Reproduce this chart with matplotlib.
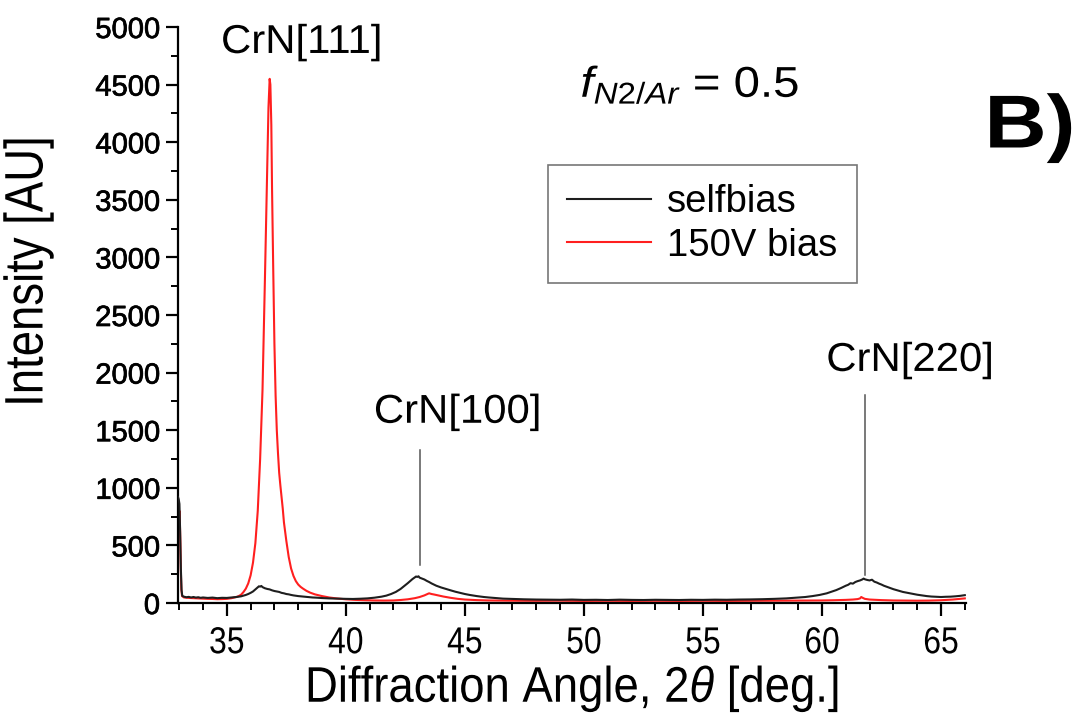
import matplotlib
matplotlib.use('Agg')
import matplotlib.pyplot as plt
import matplotlib.patheffects as pe
from matplotlib.transforms import Affine2D
from matplotlib import font_manager as fm
from matplotlib.ticker import MultipleLocator

# ---------------- data ----------------
selfbias_x = [32.95, 32.98, 33.01, 33.04, 33.07, 33.10, 33.13, 33.2, 33.3, 33.4, 33.5, 33.6, 33.7, 33.8, 33.9,
              34.0, 34.2, 34.4, 34.6, 34.8, 35.0, 35.2, 35.4, 35.6, 35.8, 35.9, 36.0, 36.1, 36.2, 36.3, 36.35,
              36.4, 36.45, 36.5, 36.6, 36.7, 36.8, 36.9, 37.0, 37.1, 37.2, 37.3, 37.4, 37.5, 37.6, 37.7, 37.8,
              37.9, 38.0, 38.2, 38.4, 38.6, 38.8, 39.0, 39.3, 39.6, 40.0, 40.3, 40.6, 40.9, 41.2, 41.5, 41.7,
              41.9, 42.1, 42.3, 42.5, 42.6, 42.7, 42.8, 42.9, 42.95, 43.0, 43.05, 43.1, 43.2, 43.3, 43.4, 43.5,
              43.6, 43.7, 43.8, 43.9, 44.0, 44.2, 44.4, 44.6, 44.8, 45.0, 45.2, 45.5, 45.8, 46.0, 46.3, 46.6,
              47.0, 47.5, 48.0, 48.5, 49.0, 49.5, 50.0, 50.5, 51.0, 51.5, 52.0, 52.5, 53.0, 53.5, 54.0, 54.5,
              55.0, 55.5, 56.0, 56.5, 57.0, 57.5, 58.0, 58.5, 59.0, 59.3, 59.6, 59.9, 60.2, 60.4, 60.6, 60.8,
              61.0, 61.1, 61.2, 61.3, 61.4, 61.5, 61.6, 61.7, 61.75, 61.8, 61.9, 62.0, 62.1, 62.2, 62.3, 62.4,
              62.5, 62.6, 62.8, 63.0, 63.2, 63.4, 63.6, 63.8, 64.0, 64.2, 64.4, 64.6, 64.8, 65.0, 65.2, 65.4,
              65.6, 65.8, 66.0]
selfbias_y = [920, 900, 860, 620, 300, 110, 62, 55, 50, 53, 48, 52, 47, 50, 45,
              48, 44, 47, 42, 45, 44, 48, 52, 58, 70, 78, 88, 100, 118, 135, 145,
              142, 148, 138, 128, 122, 118, 110, 104, 100, 96, 88, 84, 78, 75, 70, 66,
              63, 60, 56, 52, 48, 46, 43, 40, 38, 36, 35, 37, 40, 46, 55, 64,
              78, 96, 122, 155, 172, 190, 208, 222, 230, 226, 232, 220, 212, 204, 192, 182,
              170, 160, 150, 142, 135, 122, 110, 98, 88, 78, 70, 60, 52, 48, 43, 38,
              35, 32, 30, 29, 28, 30, 27, 28, 26, 29, 27, 26, 28, 27, 26, 28,
              27, 29, 28, 30, 31, 33, 36, 40, 47, 52, 60, 70, 84, 98, 112, 130,
              150, 158, 172, 168, 182, 190, 196, 205, 212, 206, 200, 196, 202, 185, 178, 168,
              160, 150, 135, 120, 108, 96, 88, 80, 72, 66, 60, 56, 54, 52, 54, 55,
              58, 62, 68]

bias150_x = [32.95, 32.97, 32.99, 33.01, 33.03, 33.05, 33.07, 33.09, 33.12, 33.2, 33.3, 33.4, 33.6, 33.8,
             34.0, 34.2, 34.4, 34.6, 34.8, 35.0, 35.2, 35.4, 35.5, 35.6, 35.7, 35.8, 35.9, 36.0, 36.1,
             36.2, 36.3, 36.4, 36.5, 36.6, 36.7, 36.75, 36.8, 36.83, 36.87, 36.9, 36.95, 37.0, 37.05,
             37.1, 37.15, 37.2, 37.25, 37.3, 37.35, 37.4, 37.5, 37.6, 37.7, 37.8, 37.9, 38.0, 38.1,
             38.2, 38.35, 38.5, 38.7, 39.0, 39.3, 39.6, 40.0, 40.4, 40.8, 41.2, 41.6, 42.0, 42.3,
             42.6, 42.9, 43.1, 43.3, 43.45, 43.5, 43.6, 43.7, 43.9, 44.1, 44.4, 44.7, 45.0, 45.5,
             46.0, 46.5, 47.0, 48.0, 49.0, 50.0, 51.0, 52.0, 53.0, 54.0, 55.0, 56.0, 57.0, 58.0,
             59.0, 60.0, 60.5, 61.0, 61.3, 61.5, 61.6, 61.65, 61.7, 61.8, 62.0, 62.5, 63.0, 63.5,
             64.0, 64.5, 65.0, 65.5, 66.0]
bias150_y = [780, 860, 720, 800, 690, 520, 280, 120, 60, 48, 46, 44, 42, 40,
             38, 36, 35, 33, 34, 36, 42, 52, 60, 72, 95, 125, 170, 240, 350,
             520, 800, 1250, 1850, 2800, 3800, 4300, 4550, 4500, 4150, 3600, 2900, 2250, 1800,
             1500, 1300, 1130, 1020, 920, 820, 700, 540, 400, 300, 235, 190, 160, 140,
             125, 105, 90, 75, 60, 48, 40, 32, 27, 24, 22, 21, 22, 26,
             32, 42, 52, 66, 80, 84, 78, 74, 65, 56, 45, 36, 30, 25,
             22, 21, 20, 19, 20, 18, 19, 18, 19, 18, 19, 18, 19, 20,
             21, 22, 24, 27, 30, 34, 40, 52, 46, 36, 30, 25, 22, 21,
             20, 21, 24, 30, 40]

series_labels = ['selfbias', '150V bias']
x_ticks = [35, 40, 45, 50, 55, 60, 65]
y_ticks = [0, 500, 1000, 1500, 2000, 2500, 3000, 3500, 4000, 4500, 5000]
peak_labels = ['CrN[111]', 'CrN[100]', 'CrN[220]']


# ---------------- text width scaling (narrow / wide lettering) ----------------
class HScale(pe.AbstractPathEffect):
    """Scale glyphs along the baseline direction about the text centre."""
    def __init__(self, sx):
        super().__init__()
        self.sx = sx

    def draw_path(self, renderer, gc, tpath, affine, rgbFace=None):
        ext = tpath.get_extents()
        cx = (ext.x0 + ext.x1) / 2.0
        t = Affine2D().translate(-cx, 0).scale(self.sx, 1.0).translate(cx, 0) + affine
        renderer.draw_path(gc, tpath, t, rgbFace)


def squeeze(txt, sx):
    txt.set_path_effects([HScale(sx)])
    return txt


# ---------------- fonts ----------------
names = {f.name for f in fm.fontManager.ttflist}
BASE = 'Liberation Sans' if 'Liberation Sans' in names else 'DejaVu Sans'
plt.rcParams['font.family'] = [BASE, 'DejaVu Sans']
plt.rcParams['mathtext.fontset'] = 'custom'
plt.rcParams['mathtext.rm'] = BASE
plt.rcParams['mathtext.it'] = BASE + ':italic'
plt.rcParams['mathtext.bf'] = BASE + ':bold'

W, H = 1084, 719
fig = plt.figure(figsize=(W / 100, H / 100), dpi=100)
L, R, T, B = 178, 966, 27, 603
ax = fig.add_axes([L / W, 1 - B / H, (R - L) / W, (B - T) / H])

ax.plot(selfbias_x, selfbias_y, color='#1e1e1e', lw=1.5, label=series_labels[0], zorder=3)
ax.plot(bias150_x, bias150_y, color='#ff1f1f', lw=1.5, label=series_labels[1], zorder=2)

ax.set_xlim(32.95, 66.05)
ax.set_ylim(0, 5000)
ax.set_xticks(x_ticks)
ax.set_yticks(y_ticks)
ax.xaxis.set_minor_locator(MultipleLocator(1))
ax.yaxis.set_minor_locator(MultipleLocator(250))
for s in ['top', 'right']:
    ax.spines[s].set_visible(False)
for s in ['left', 'bottom']:
    ax.spines[s].set_linewidth(1.6)
ax.tick_params(which='major', direction='out', length=9, width=1.6)
ax.tick_params(which='minor', direction='out', length=5, width=1.4)
ax.tick_params(axis='x', pad=7)
ax.tick_params(axis='y', pad=4)

for lab in ax.get_xticklabels():
    lab.set_fontsize(27)
    squeeze(lab, 0.85)
for lab in ax.get_yticklabels():
    lab.set_fontsize(21)
    lab.set_path_effects([pe.withStroke(linewidth=0.5, foreground='black')])

xl = ax.set_xlabel(r'Diffraction Angle, $2\theta$ [deg.]', fontsize=36, labelpad=2)
squeeze(xl, 0.91)
yl = ax.set_ylabel('Intensity [AU]', fontsize=39)
squeeze(yl, 0.84)
ax.yaxis.set_label_coords(-0.158, 0.575)

# peak annotations
for txt in [ax.text(38.15, 4870, peak_labels[0], fontsize=29, ha='center', va='center'),
            ax.text(44.7, 1660, peak_labels[1], fontsize=29, ha='center', va='center'),
            ax.text(63.7, 2110, peak_labels[2], fontsize=29, ha='center', va='center')]:
    squeeze(txt, 1.04)
ax.plot([43.1, 43.1], [330, 1330], color='#555555', lw=1.1)
ax.plot([61.8, 61.8], [245, 1805], color='#555555', lw=1.1)

# f_{N2/Ar} = 0.5
ft = fig.text(690 / W, 1 - 97 / H, r'$f_{\mathit{N2/Ar}}$ = 0.5', fontsize=31, ha='center', va='baseline')
squeeze(ft, 1.1)
# panel label
bt = fig.text(1030 / W, 1 - 128 / H, 'B)', fontsize=54, fontweight='bold', ha='center', va='center')
squeeze(bt, 1.15)

leg = ax.legend(loc='upper left', bbox_to_anchor=(0.4696, 0.7605), fontsize=27.5, frameon=True,
                fancybox=False, edgecolor='#555555', handlelength=2.2, handletextpad=0.42,
                borderpad=0.5, labelspacing=0.2, borderaxespad=0)
leg.get_frame().set_linewidth(1.2)

fig.savefig('out.png', dpi=100)
